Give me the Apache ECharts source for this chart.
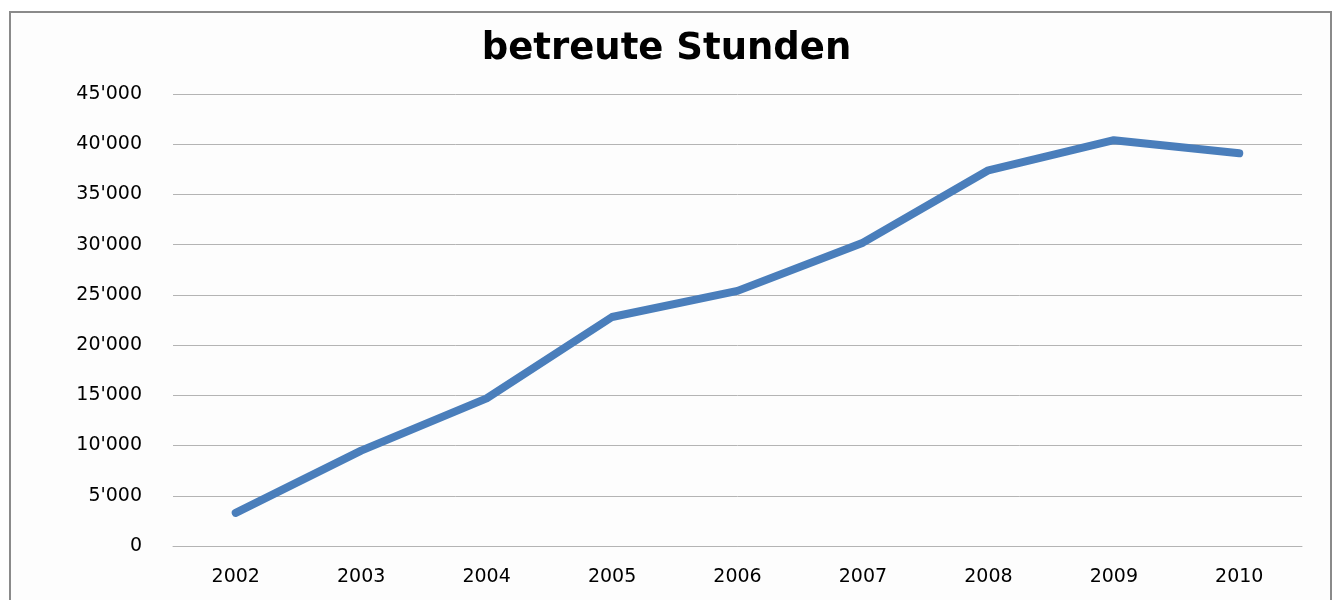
<!DOCTYPE html>
<html>
<head>
<meta charset="utf-8">
<script src="https://cdn.jsdelivr.net/npm/echarts@6/dist/echarts.min.js"></script>
<style>
  html, body { margin: 0; padding: 0; background: #fff; }
  #chart { width: 1333px; height: 600px; }
</style>
</head>
<body>
<div id="chart"></div>
<script>
// Jahre und betreute Stunden
var years = ["2002", "2003", "2004", "2005", "2006", "2007", "2008", "2009", "2010"];
var hours = [3300, 9500, 14700, 22800, 25400, 30200, 37400, 40400, 39100];

(function () {
  var myChart = echarts.init(document.getElementById("chart"));

  // 45000 -> 45'000
  function fmt(v) {
    return String(v).replace(/\B(?=(\d{3})+(?!\d))/g, "'");
  }

  var option = {
    backgroundColor: "#fff",
    graphic: [
      {
        type: "rect",
        shape: { x: 10, y: 12, width: 1321, height: 600 },
        style: { fill: "#fdfdfd", stroke: "#8a8a8a", lineWidth: 2 },
        z: -10
      }
    ],
    title: {
      text: "betreute Stunden",
      left: "center",
      top: 26,
      textStyle: {
        fontFamily: "'Comic Sans MS', 'DejaVu Sans', sans-serif",
        fontSize: 37,
        fontWeight: "bold",
        color: "#000"
      }
    },
    grid: {
      left: 173,
      right: 31,
      top: 94,
      bottom: 54,
      containLabel: false
    },
    xAxis: {
      type: "category",
      data: years,
      boundaryGap: true,
      axisTick: { show: false },
      axisLine: { lineStyle: { color: "#b4b4b4", width: 1 } },
      axisLabel: {
        color: "#000",
        fontSize: 19,
        fontFamily: "'DejaVu Sans', Verdana, sans-serif",
        margin: 22
      }
    },
    yAxis: {
      type: "value",
      min: 0,
      max: 45000,
      interval: 5000,
      axisLine: { show: false },
      axisTick: { show: false },
      axisLabel: {
        color: "#000",
        fontSize: 19,
        fontFamily: "'DejaVu Sans', Verdana, sans-serif",
        margin: 31,
        formatter: fmt
      },
      splitLine: { lineStyle: { color: "#b4b4b4", width: 1 } }
    },
    series: [
      {
        name: "betreute Stunden",
        type: "line",
        data: hours,
        symbol: "none",
        lineStyle: { color: "#4a7ebb", width: 8, cap: "round", join: "round" },
        animation: false
      }
    ]
  };

  myChart.setOption(option);
  window.addEventListener("resize", function () {
    myChart.resize();
  });
})();
</script>
</body>
</html>
